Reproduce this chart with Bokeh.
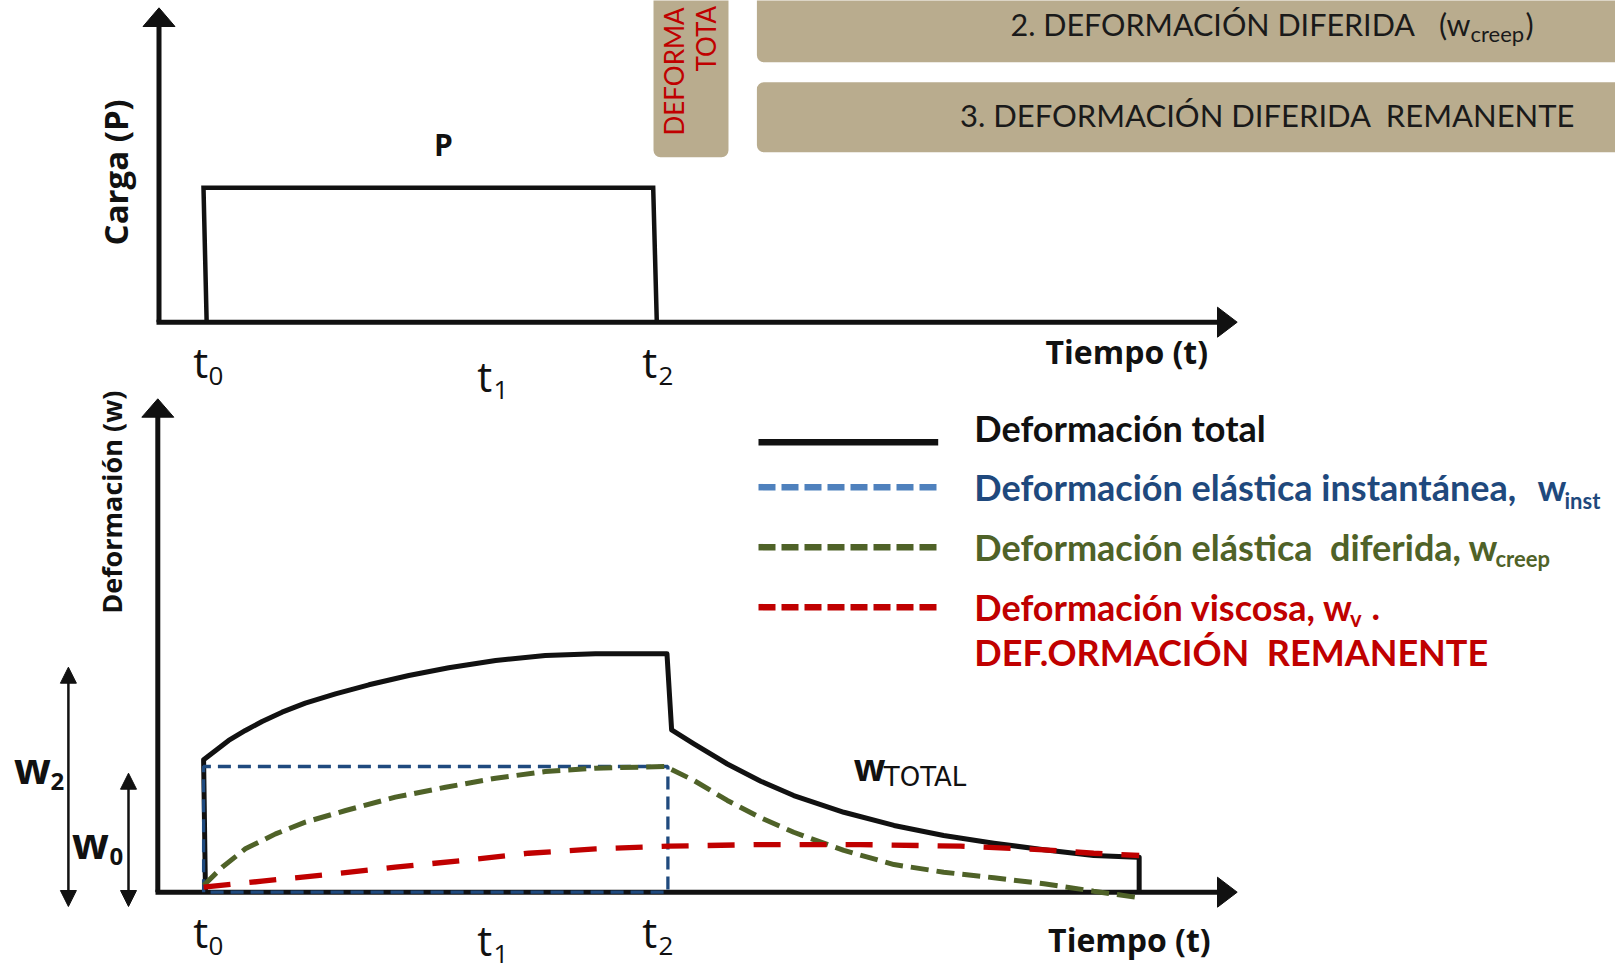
import numpy as np
from bokeh.plotting import figure
from bokeh.models import Range1d, BoxAnnotation
from bokeh.core.properties import value
from bokeh.embed import file_html
from bokeh.resources import INLINE

# ---------------- data (chart units) ----------------
# upper chart: load P versus time (t0 = 1, t2 = 11)
load_t = [1.07, 1.0, 11.0, 11.08]
load_p = [0.0, 1.0, 1.0, 0.0]

# lower chart: deformation w versus time (w_inst = 1)
total_t = [1.04, 1.0, 1.26, 1.54, 1.90, 2.26, 2.69, 3.19, 3.84, 4.56, 5.42, 6.28, 7.29,
           8.36, 9.44, 10.98, 11.08, 11.56, 12.28, 13.0, 13.71, 14.79, 15.87, 16.94,
           18.02, 19.10, 20.17, 21.11, 21.15, 21.15]
total_w = [0.0, 1.053, 1.127, 1.207, 1.287, 1.358, 1.432, 1.504, 1.578, 1.650, 1.724,
           1.785, 1.843, 1.883, 1.897, 1.897, 1.292, 1.18, 1.02, 0.883, 0.769, 0.636,
           0.531, 0.451, 0.390, 0.337, 0.292, 0.278, 0.278, 0.0]

inst_t = [1.0, 1.0, 11.0, 11.0, 1.0]
inst_w = [0.0, 1.0, 1.0, 0.0, 0.0]

creep_t = [1.0, 1.40, 1.90, 2.55, 3.19, 4.06, 5.13, 6.21, 7.29, 8.36, 9.44, 10.95,
           11.56, 12.28, 13.0, 13.71, 14.79, 15.87, 16.94, 18.02, 19.10, 20.17, 21.07]
creep_w = [0.053, 0.199, 0.345, 0.464, 0.557, 0.650, 0.756, 0.835, 0.907, 0.960, 0.987,
           1.0, 0.889, 0.730, 0.592, 0.477, 0.332, 0.220, 0.159, 0.115, 0.067, 0.008,
           -0.040]

visc_t = [1.0, 2.26, 3.70, 5.13, 6.57, 8.00, 9.44, 11.02, 13.0, 15.15, 17.30, 19.10,
          20.17, 21.15]
visc_w = [0.04, 0.088, 0.141, 0.199, 0.252, 0.310, 0.345, 0.366, 0.379, 0.379, 0.366,
          0.337, 0.310, 0.292]

time_tick_main = ["t", "t", "t"]
time_tick_sub = ["0", "1", "2"]

NB = "\u00a0"
legend_labels = ["Deformación total",
                 "Deformación elástica instantánea,",
                 "Deformación elástica" + NB + " diferida,",
                 "Deformación viscosa,"]
legend_subs = ["", "inst", "creep", "v"]

# ---------------- layout ----------------
W, H = 1615, 970
BLACK = "#111111"
BLUE = "#1F4A7E"
BLUE_LEG = "#4F81BD"
BLUE_TXT = "#1F497D"
GREEN = "#4F6228"
RED = "#C00000"
TAN = "#B9AC8E"
DARK = "#1A1A1A"
KB = 0.38  # baseline correction (fraction of font size)

p = figure(width=W, height=H, x_range=Range1d(0, W), y_range=Range1d(H, 0),
           output_backend="svg", toolbar_location=None, x_axis_type=None,
           y_axis_type=None, min_border=0, outline_line_color=None)
p.grid.visible = False
p.background_fill_color = "white"


def rng(px_a, px_b, v_a, v_b, lo, hi):
    k = (v_b - v_a) / (px_b - px_a)
    return Range1d(start=v_a + (lo - px_a) * k, end=v_a + (hi - px_a) * k)


p.extra_x_ranges = {
    "t_top": rng(203.0, 652.7, 1.0, 11.0, 0, W),
    "t_bot": rng(203.1, 667.4, 1.0, 11.0, 0, W),
}
p.extra_y_ranges = {
    "p_top": rng(321.7, 187.3, 0.0, 1.0, H, 0),
    "w_bot": rng(891.7, 766.0, 0.0, 1.0, H, 0),
}

# ---------------- boxes at top ----------------
for l, r, t, b in [(653, 728, -60, 156.7), (756.4, 1700, -60, 61.7), (756.4, 1700, 81.7, 151.7)]:
    p.add_layout(BoxAnnotation(left=l, right=r, top=t, bottom=b, fill_color=TAN,
                               fill_alpha=1.0, line_color=None, border_radius=7,
                               level="underlay"))


def txt(x, y, s, size, color=BLACK, font="Open Sans", style="normal",
        align="left", angle=0.0):
    if angle == 0.0:
        y = y - KB * size
    else:
        x = x - KB * size
    p.text(x=[x], y=[y], text=[s], text_font=value(font), text_font_size=f"{size}px",
           text_font_style=style, text_color=color, text_align=align,
           text_baseline="alphabetic", angle=angle)


# ---------------- axes ----------------
def arrow_head(tip, base_c, half, vertical):
    tx, ty = tip
    if vertical:
        xs = [base_c[0] - half, base_c[0] + half, tx]
        ys = [base_c[1], base_c[1], ty]
    else:
        xs = [base_c[0], base_c[0], tx]
        ys = [base_c[1] - half, base_c[1] + half, ty]
    p.patch(xs, ys, fill_color=BLACK, line_color=BLACK, line_width=1)


# upper axes
p.line([158.5, 158.5], [321.7, 22], line_width=5, color=BLACK)
arrow_head((158.5, 7.3), (158.5, 26), 16, True)
p.line([156, 1222], [321.7, 321.7], line_width=5, color=BLACK)
arrow_head((1236.7, 321.7), (1217, 321.7), 15, False)
# lower axes
p.line([157.3, 157.3], [891.7, 412], line_width=5, color=BLACK)
arrow_head((157.3, 398.3), (157.3, 416.7), 16, True)
p.line([155, 1222], [891.7, 891.7], line_width=5, color=BLACK)
arrow_head((1236.7, 891.7), (1217, 891.7), 15, False)

# double arrows w2 / w0
for x, top in [(67.9, 666.7), (128.0, 772.7)]:
    p.line([x, x], [top + 10, 896], line_width=2.5, color=BLACK)
    arrow_head((x, top), (x, top + 16), 8, True)
    arrow_head((x, 906), (x, 890), 8, True)

# ---------------- upper chart: load ----------------
p.line(load_t, load_p, x_range_name="t_top", y_range_name="p_top",
       line_width=4.5, color=BLACK, line_join="miter")

# ---------------- lower chart curves ----------------
p.line(total_t, total_w, x_range_name="t_bot", y_range_name="w_bot",
       line_width=5, color=BLACK, line_join="round")
p.line(inst_t, inst_w, x_range_name="t_bot", y_range_name="w_bot",
       line_width=3.3, color=BLUE, line_dash="13 7")
p.line(creep_t, creep_w, x_range_name="t_bot", y_range_name="w_bot",
       line_width=5, color=GREEN, line_dash="18 8")
p.line(visc_t, visc_w, x_range_name="t_bot", y_range_name="w_bot",
       line_width=5.3, color=RED, line_dash="27 19")

# ---------------- legend ----------------
leg_y = [441.7, 486.7, 546.7, 606.7]
leg_col = [BLACK, BLUE_LEG, GREEN, RED]
leg_dash = ["solid", "17 6", "17 6", "17 6"]
for y, c, d in zip(leg_y, leg_col, leg_dash):
    p.line([758, 937.7], [y, y], line_width=6.5, color=c, line_dash=d)

txt_col = [BLACK, BLUE_TXT, GREEN, RED]
base_y = [440.7, 500.0, 560.0, 620.0]
for lab, c, y in zip(legend_labels, txt_col, base_y):
    txt(973.8, y, lab, 36, color=c, font="Lato", style="bold")
# w + subscripts
txt(1537.0, 500.0, "w", 36, color=BLUE_TXT, font="Lato", style="bold")
txt(1564.0, 508.3, legend_subs[1], 22, color=BLUE_TXT, font="Lato", style="bold")
txt(1468.0, 560.0, "w", 36, color=GREEN, font="Lato", style="bold")
txt(1495.0, 566.7, legend_subs[2], 22, color=GREEN, font="Lato", style="bold")
txt(1322.5, 620.0, "w", 36, color=RED, font="Lato", style="bold")
txt(1349.5, 626.7, legend_subs[3], 22, color=RED, font="Lato", style="bold")
txt(1371.0, 620.0, ".", 36, color=RED, font="Lato", style="bold")
txt(973.8, 665.0, "DEF.ORMACIÓN" + NB + " REMANENTE", 36, color=RED, font="Lato", style="bold")

# ---------------- box texts ----------------
txt(1010.0, 35.0, "2. DEFORMACIÓN DIFERIDA", 30.5, color=DARK, font="Lato")
txt(1438.5, 35.0, "(w", 30.5, color=DARK, font="Lato")
txt(1470.0, 41.7, "creep", 22, color=DARK, font="Lato")
txt(1525.0, 35.0, ")", 30.5, color=DARK, font="Lato")
txt(959.5, 126.7, "3. DEFORMACIÓN DIFERIDA" + NB + " REMANENTE", 31, color=DARK, font="Lato")
txt(683.5, 135.0, "DEFORMA", 26, color=RED, font="Lato", angle=np.pi / 2)
txt(715.0, 71.0, "TOTA", 26, color=RED, font="Lato", angle=np.pi / 2)

# ---------------- axis labels ----------------
txt(127.5, 171.8, "Carga (P)", 33, style="bold", align="center", angle=np.pi / 2)
txt(121.7, 501.7, "Deformación (w)", 27, style="bold", align="center", angle=np.pi / 2)
txt(1045.0, 362.7, "Tiempo (t)", 32, style="bold")
txt(1047.6, 950.7, "Tiempo (t)", 32, style="bold")
txt(443.0, 155.0, "P", 30, style="bold", align="center")

# time tick labels (top and bottom)
tick_x = [192.7, 476.7, 641.7]
tick_sub_x = [208.0, 493.0, 658.0]
tick_base_top = [376.7, 391.0, 376.7]
tick_base_bot = [946.7, 955.0, 946.7]
for bases in [tick_base_top, tick_base_bot]:
    for m, s, x, xs, yb in zip(time_tick_main, time_tick_sub, tick_x, tick_sub_x, bases):
        txt(x, yb, m, 42)
        txt(xs, yb + 8.5, s, 26)

# w labels
txt(13.4, 783.0, "w", 43, style="bold")
txt(50.0, 790.0, "2", 24, style="bold")
txt(71.4, 858.0, "w", 43, style="bold")
txt(109.0, 865.0, "0", 24, style="bold")
txt(853.3, 780.0, "w", 37, style="bold")
txt(883.3, 786.7, "TOTAL", 26, font="DejaVu Sans")

open("out.html", "w").write(file_html(p, INLINE))
